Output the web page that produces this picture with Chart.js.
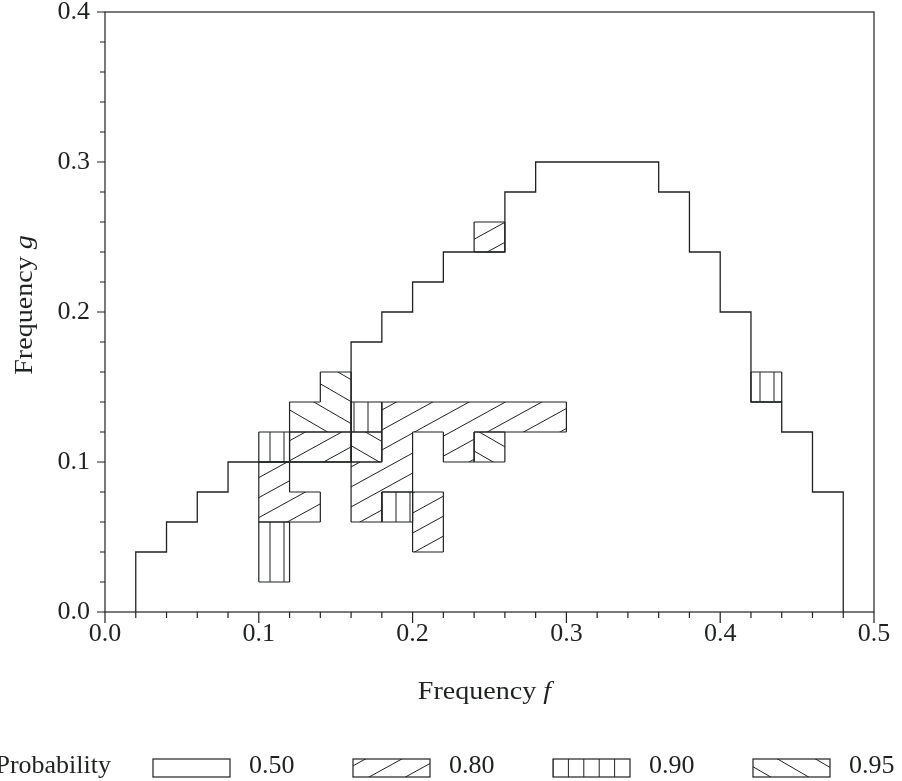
<!DOCTYPE html>
<html>
<head>
<meta charset="utf-8">
<script src="https://cdn.jsdelivr.net/npm/chart.js@4.4.1/dist/chart.umd.min.js"></script>
<style>
  body { margin: 0; background: #fff; }
  canvas { display: block; }
</style>
</head>
<body>
<canvas id="chart" width="902" height="781"></canvas>
<script>
// outer step contour (0.50 region): column left edges and column heights
const contourEdges = [0.02, 0.04, 0.06, 0.08, 0.10, 0.12, 0.14, 0.16, 0.18, 0.20, 0.22, 0.24,
                      0.26, 0.28, 0.30, 0.32, 0.34, 0.36, 0.38, 0.40, 0.42, 0.44, 0.46, 0.48]
const contourHeights = [0.04, 0.06, 0.08, 0.10, 0.10, 0.10, 0.10, 0.18, 0.20, 0.22, 0.24, 0.24,
                        0.28, 0.30, 0.30, 0.30, 0.30, 0.28, 0.24, 0.20, 0.14, 0.12, 0.08]

// hatched cells, lower-left corner [f, g]
const p80Cells = [[0.24, 0.24],
  [0.18, 0.12], [0.20, 0.12], [0.22, 0.12], [0.24, 0.12], [0.26, 0.12], [0.28, 0.12],
  [0.12, 0.10], [0.14, 0.10], [0.18, 0.10], [0.22, 0.10],
  [0.10, 0.08], [0.16, 0.08], [0.18, 0.08],
  [0.10, 0.06], [0.12, 0.06], [0.16, 0.06], [0.20, 0.06],
  [0.20, 0.04]]
const p90Cells = [[0.42, 0.14], [0.16, 0.12], [0.10, 0.10], [0.18, 0.06], [0.10, 0.04], [0.10, 0.02]]
const p95Cells = [[0.14, 0.14], [0.12, 0.12], [0.14, 0.12], [0.16, 0.10], [0.24, 0.10]]

const xTickLabels = ['0.0', '0.1', '0.2', '0.3', '0.4', '0.5']
const yTickLabels = ['0.0', '0.1', '0.2', '0.3', '0.4']
const legendLabels = ['0.50', '0.80', '0.90', '0.95']

const cellSize = 0.02
const ink = '#1f231f'
const serif = '"Liberation Serif", "Times New Roman", serif'

const isMajor = v => Math.round(v * 100) % 10 === 0
const cellKey = (f, g) => Math.round(f / cellSize) + ',' + Math.round(g / cellSize)

// hatch lines over a box (caller clips)
function hatch(ctx, box, kind, originX, vgap) {
    ctx.beginPath()
    if (kind === 'v') {
        const gap = vgap || 14
        const o = originX === undefined ? 0 : originX
        for (let x = o + Math.ceil((box.left - o) / gap) * gap; x < box.right - 1; x += gap) {
            ctx.moveTo(x, box.top)
            ctx.lineTo(x, box.bottom)
        }
    } else if (kind === '/' || kind === '\\') {
        const slope = kind === '/' ? -0.55 : 0.58
        const gap = kind === '/' ? 20 : 22
        const cMin = Math.min(box.top - slope * box.left, box.top - slope * box.right)
        const cMax = Math.max(box.bottom - slope * box.left, box.bottom - slope * box.right)
        for (let c = Math.floor(cMin / gap) * gap; c <= cMax; c += gap) {
            ctx.moveTo(box.left, c + slope * box.left)
            ctx.lineTo(box.right, c + slope * box.right)
        }
    }
    ctx.stroke()
}

function drawCells(chart, cells, kind) {
    const {ctx, chartArea, scales: {x, y}} = chart
    const rect = (f, g) => ({
        left: x.getPixelForValue(f), right: x.getPixelForValue(f + cellSize),
        top: y.getPixelForValue(g + cellSize), bottom: y.getPixelForValue(g)
    })
    const keys = new Set(cells.map(c => cellKey(c[0], c[1])))

    ctx.save()
    ctx.beginPath()
    cells.forEach(([f, g]) => {
        const r = rect(f, g)
        ctx.rect(r.left, r.top, r.right - r.left, r.bottom - r.top)
    })
    ctx.clip()
    ctx.strokeStyle = ink
    ctx.lineWidth = 1
    hatch(ctx, chartArea, kind, 4)
    ctx.restore()

    // outline of the region
    ctx.save()
    ctx.strokeStyle = ink
    ctx.lineWidth = 1.2
    ctx.beginPath()
    cells.forEach(([f, g]) => {
        const r = rect(f, g)
        if (!keys.has(cellKey(f - cellSize, g))) { ctx.moveTo(r.left, r.top); ctx.lineTo(r.left, r.bottom) }
        if (!keys.has(cellKey(f + cellSize, g))) { ctx.moveTo(r.right, r.top); ctx.lineTo(r.right, r.bottom) }
        if (!keys.has(cellKey(f, g + cellSize))) { ctx.moveTo(r.left, r.top); ctx.lineTo(r.right, r.top) }
        if (!keys.has(cellKey(f, g - cellSize))) { ctx.moveTo(r.left, r.bottom); ctx.lineTo(r.right, r.bottom) }
    })
    ctx.stroke()
    ctx.restore()
}

// text with an italic last part, centred on (0,0) of the current transform
function mixedText(ctx, parts, baseline) {
    let total = 0
    parts.forEach(p => { ctx.font = p[1]; total += ctx.measureText(p[0]).width })
    let x = -total / 2
    ctx.textAlign = 'left'
    ctx.textBaseline = 'alphabetic'
    parts.forEach(p => {
        ctx.font = p[1]
        ctx.fillText(p[0], x, baseline)
        x += ctx.measureText(p[0]).width
    })
}

const cellsPlugin = {
    id: 'cells',
    beforeDatasetsDraw(chart) {
        drawCells(chart, p80Cells, '/')
        drawCells(chart, p90Cells, 'v')
        drawCells(chart, p95Cells, '\\')
    },
    afterDraw(chart) {
        const {ctx, chartArea: a, scales: {x, y}} = chart
        ctx.save()
        ctx.strokeStyle = ink
        ctx.fillStyle = ink
        ctx.lineWidth = 1.2
        ctx.strokeRect(a.left, a.top, a.right - a.left, a.bottom - a.top)

        // tick marks
        ctx.beginPath()
        x.ticks.forEach(t => {
            const px = x.getPixelForValue(t.value)
            ctx.moveTo(px, a.bottom)
            ctx.lineTo(px, a.bottom + (isMajor(t.value) ? 11 : 6))
        })
        y.ticks.forEach(t => {
            const py = y.getPixelForValue(t.value)
            ctx.moveTo(a.left, py)
            ctx.lineTo(a.left - (isMajor(t.value) ? 8 : 5), py)
        })
        ctx.stroke()

        // axis titles
        const up = '26px ' + serif, it = 'italic 26px ' + serif
        ctx.save()
        ctx.translate((a.left + a.right) / 2 - 5, 699)
        ctx.scale(1.08, 1)
        mixedText(ctx, [['Frequency ', up], ['f', it]], 0)
        ctx.restore()
        ctx.save()
        ctx.translate(32, (a.top + a.bottom) / 2 - 7)
        ctx.rotate(-Math.PI / 2)
        ctx.scale(1.08, 1)
        mixedText(ctx, [['Frequency ', up], ['g', it]], 0)
        ctx.restore()

        // legend
        ctx.font = up
        ctx.textBaseline = 'alphabetic'
        ctx.textAlign = 'right'
        ctx.fillText('Probability', 111, 773)
        const kinds = ['none', '/', 'v', '\\']
        ctx.textAlign = 'left'
        legendLabels.forEach((lab, i) => {
            const box = {left: 153 + i * 200, right: 230 + i * 200, top: 759, bottom: 777}
            ctx.save()
            ctx.beginPath()
            ctx.rect(box.left, box.top, box.right - box.left, box.bottom - box.top)
            ctx.clip()
            ctx.lineWidth = 1
            hatch(ctx, box, kinds[i], box.left, (box.right - box.left) / 5)
            ctx.restore()
            ctx.strokeRect(box.left, box.top, box.right - box.left, box.bottom - box.top)
            ctx.fillText(lab, box.right + 19, 773)
        })
        ctx.restore()
    }
}

const contourPoints = [{x: contourEdges[0], y: 0}]
    .concat(contourHeights.map((h, i) => ({x: contourEdges[i], y: h})))
    .concat([{x: contourEdges[contourEdges.length - 1], y: 0}])

const tickFont = {family: serif, size: 26}

new Chart(document.getElementById('chart'), {
    type: 'line',
    data: {
        datasets: [{
            label: '0.50',
            data: contourPoints,
            stepped: true,
            borderColor: ink,
            borderWidth: 1.3,
            pointRadius: 0,
            fill: false
        }]
    },
    options: {
        responsive: false,
        animation: false,
        layout: {padding: {left: 0, right: 28, top: 12, bottom: 0}},
        plugins: {legend: {display: false}, tooltip: {enabled: false}},
        scales: {
            x: {
                type: 'linear', min: 0, max: 0.5,
                grid: {display: false, drawTicks: false},
                border: {display: false},
                ticks: {
                    stepSize: 0.02, autoSkip: false, maxRotation: 0, padding: 7,
                    color: ink, font: tickFont,
                    callback: v => isMajor(v) ? xTickLabels[Math.round(v * 10)] : ''
                },
                afterFit: s => { s.height = 169; s.paddingLeft = 0; s.paddingRight = 0 }
            },
            y: {
                type: 'linear', min: 0, max: 0.4,
                grid: {display: false, drawTicks: false},
                border: {display: false},
                ticks: {
                    stepSize: 0.02, autoSkip: false, padding: 15,
                    color: ink, font: tickFont,
                    callback: v => isMajor(v) ? yTickLabels[Math.round(v * 10)] : ''
                },
                afterFit: s => { s.width = 105; s.paddingTop = 0; s.paddingBottom = 0 }
            }
        }
    },
    plugins: [cellsPlugin]
})
</script>
</body>
</html>
